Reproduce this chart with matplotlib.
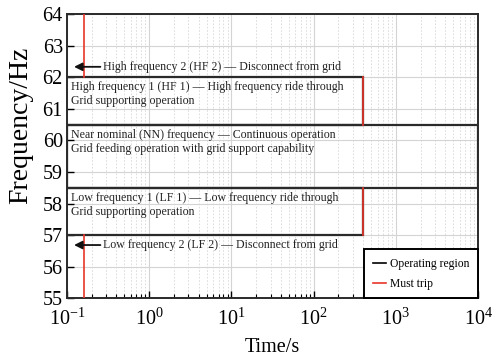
import matplotlib
matplotlib.use("Agg")
import matplotlib.pyplot as plt
from matplotlib.lines import Line2D
from matplotlib.ticker import LogLocator, NullFormatter, MultipleLocator

plt.rcParams['font.family'] = ['Liberation Serif', 'DejaVu Serif']
plt.rcParams['mathtext.fontset'] = 'stix'

# Region definitions (time in s, frequency in Hz)
t_min, t_max = 0.1, 1e4
trip_fast = 0.16
ride_through_end = 400
f_hf2_top, f_hf1_top, f_nn_top, f_nn_bot, f_lf1_bot, f_lf2_bot = 64, 62, 60.5, 58.5, 57, 55

hf1_box = [(t_min, f_hf1_top), (ride_through_end, f_hf1_top), (ride_through_end, f_nn_top), (t_min, f_nn_top)]
nn_box = [(t_min, f_nn_top), (t_max, f_nn_top), (t_max, f_nn_bot), (t_min, f_nn_bot), (t_min, f_nn_top)]
lf1_box = [(t_min, f_nn_bot), (ride_through_end, f_nn_bot), (ride_through_end, f_lf1_bot), (t_min, f_lf1_bot)]

trip_lines = [
    ([trip_fast, trip_fast], [f_hf2_top, f_hf1_top]),
    ([trip_fast, trip_fast], [f_lf1_bot, f_lf2_bot]),
    ([ride_through_end, ride_through_end], [f_hf1_top, f_nn_top]),
    ([ride_through_end, ride_through_end], [f_nn_bot, f_lf1_bot]),
]

box_texts = [
    (61.69, "High frequency 1 (HF 1) \u2014 High frequency ride through"),
    (61.25, "Grid supporting operation"),
    (60.17, "Near nominal (NN) frequency \u2014 Continuous operation"),
    (59.73, "Grid feeding operation with grid support capability"),
    (58.18, "Low frequency 1 (LF 1) \u2014 Low frequency ride through"),
    (57.73, "Grid supporting operation"),
]
arrow_texts = [
    (62.33, "High frequency 2 (HF 2) \u2014 Disconnect from grid"),
    (56.69, "Low frequency 2 (LF 2) \u2014 Disconnect from grid"),
]

fig = plt.figure(figsize=(4.96, 3.6), dpi=100)
ax = fig.add_axes([0.135, 0.171, 0.829, 0.79])
ax.set_xscale('log')
ax.set_xlim(t_min, t_max)
ax.set_ylim(55, 64)

ax.xaxis.set_major_locator(LogLocator(base=10, numticks=10))
ax.xaxis.set_minor_locator(LogLocator(base=10, subs=range(2, 10), numticks=100))
ax.xaxis.set_minor_formatter(NullFormatter())
ax.yaxis.set_major_locator(MultipleLocator(1))

ax.grid(which='major', color='#d4d4d4', linewidth=0.8, linestyle='-')
ax.grid(which='minor', axis='x', color='#d8d8d8', linewidth=0.6, linestyle=(0, (2, 2)))
ax.set_axisbelow(True)

dark = '#2a2a2a'
for box in (hf1_box, nn_box, lf1_box):
    xs, ys = zip(*box)
    ax.plot(xs, ys, color=dark, linewidth=1.6, solid_joinstyle='miter', zorder=3)
for xs, ys in trip_lines:
    ax.plot(xs, ys, color='#e8352a', linewidth=1.2, zorder=4)

for y, s in box_texts:
    ax.text(0.113, y, s, fontsize=8.6, color='#222222', va='center', ha='left', zorder=5)
for y, s in arrow_texts:
    ax.annotate('', xy=(0.122, y), xytext=(0.255, y),
                arrowprops=dict(arrowstyle='-|>', color='#111111', lw=1.3,
                                mutation_scale=12, shrinkA=0, shrinkB=0), zorder=5)
    ax.text(0.272, y, s, fontsize=8.6, color='#222222', va='center', ha='left', zorder=5)

for sp in ax.spines.values():
    sp.set_linewidth(1.4)
    sp.set_color(dark)

ax.tick_params(axis='both', which='major', direction='in', length=5, width=1.0,
               labelsize=14.5, top=False, right=False, pad=3)
ax.tick_params(axis='x', which='minor', direction='in', length=3, width=0.8, top=False)
ax.tick_params(axis='x', which='major', pad=7)

ax.set_xlabel('Time/s', fontsize=14.5, labelpad=6)
ax.set_ylabel('Frequency/Hz', fontsize=20)
ax.yaxis.set_label_coords(-0.083, 0.607)

handles = [Line2D([], [], color='black', lw=1.2), Line2D([], [], color='#e8352a', lw=1.2)]
leg = ax.legend(handles, ['Operating region', 'Must trip'], loc='lower right',
                fontsize=8.4, frameon=True, fancybox=False, borderaxespad=0,
                handlelength=1.1, handletextpad=0.35, borderpad=0.75, labelspacing=0.65)
leg.get_frame().set_edgecolor('black')
leg.get_frame().set_linewidth(1.4)
leg.get_frame().set_alpha(1)
leg.set_zorder(6)

fig.savefig('out.png', dpi=100)
